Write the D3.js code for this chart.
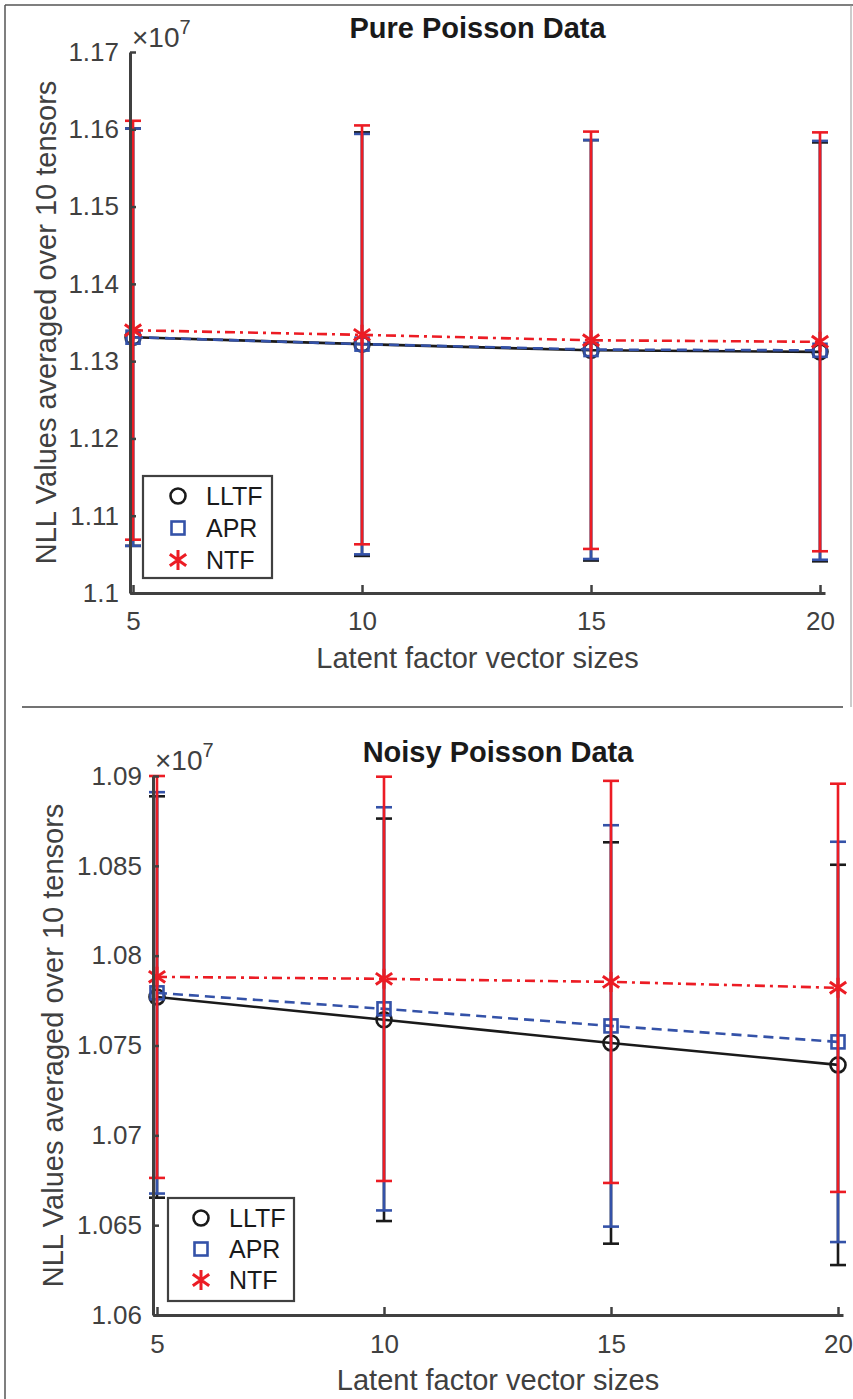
<!DOCTYPE html>
<html><head><meta charset="utf-8">
<script src="https://cdn.jsdelivr.net/npm/d3@7"></script>
<style>body{margin:0;background:#fff}svg{display:block}</style>
</head><body>
<svg id="c" width="853" height="1399"></svg>
<script>
// ---------- data (values in units of 1e7) ----------
const xValues = [5, 10, 15, 20];
const xTickLabels = ["5", "10", "15", "20"];
const seriesNames = ["LLTF", "APR", "NTF"];

const pureLLTF = [1.1331, 1.1322, 1.1314, 1.1312];
const pureLLTFErr = [0.0270, 0.0274, 0.0272, 0.0271];
const pureAPR = [1.1331, 1.1322, 1.1315, 1.1314];
const pureAPRErr = [0.0270, 0.0272, 0.0271, 0.0271];
const pureNTF = [1.1340, 1.1334, 1.1327, 1.1325];
const pureNTFErr = [0.0271, 0.0271, 0.0270, 0.0271];
const pureYTicks = [1.1, 1.11, 1.12, 1.13, 1.14, 1.15, 1.16, 1.17];
const pureYTickLabels = ["1.1", "1.11", "1.12", "1.13", "1.14", "1.15", "1.16", "1.17"];

const noisyLLTF = [1.07770, 1.07643, 1.07514, 1.07392];
const noisyLLTFErr = [0.01117, 0.01120, 0.01117, 0.01114];
const noisyAPR = [1.07793, 1.07704, 1.07609, 1.07520];
const noisyAPRErr = [0.01117, 0.01122, 0.01117, 0.01114];
const noisyNTF = [1.07882, 1.07871, 1.07854, 1.07821];
const noisyNTFErr = [0.01119, 0.01125, 0.01119, 0.01136];
const noisyYTicks = [1.06, 1.065, 1.07, 1.075, 1.08, 1.085, 1.09];
const noisyYTickLabels = ["1.06", "1.065", "1.07", "1.075", "1.08", "1.085", "1.09"];

// ---------- styles ----------
const FONT = "'Liberation Sans', Arial, Helvetica, sans-serif";
const AX = "#404040";
const styles = {
  LLTF: {color: "#1a1a1a", dash: null, marker: "circle"},
  APR:  {color: "#3452a8", dash: "10,6", marker: "square"},
  NTF:  {color: "#ec1c24", dash: "10,5,3,5", marker: "star"}
};

const svg = d3.select("#c");

// frame lines
svg.append("line").attr("x1",5).attr("x2",853).attr("y1",5).attr("y2",5).attr("stroke","#555").attr("stroke-width",1.5);
svg.append("line").attr("x1",5).attr("x2",5).attr("y1",5).attr("y2",1399).attr("stroke","#555").attr("stroke-width",1.5);
svg.append("line").attr("x1",851).attr("x2",851).attr("y1",5).attr("y2",707).attr("stroke","#999").attr("stroke-width",1);
svg.append("line").attr("x1",22).attr("x2",843).attr("y1",707).attr("y2",707).attr("stroke","#444").attr("stroke-width",1.5);

function marker(g, type, x, y, color, big) {
  if (type === "circle") {
    g.append("circle").attr("cx",x).attr("cy",y).attr("r",7.5)
      .attr("fill","none").attr("stroke",color).attr("stroke-width",2.6);
  } else if (type === "square") {
    g.append("rect").attr("x",x-6.5).attr("y",y-6.5).attr("width",13).attr("height",13)
      .attr("fill","none").attr("stroke",color).attr("stroke-width",2.6);
  } else {
    const r = 10;
    const p = d3.path();
    for (const a of [90, 35, -35]) {
      const rad = a*Math.PI/180;
      p.moveTo(x - r*Math.cos(rad), y - r*Math.sin(rad));
      p.lineTo(x + r*Math.cos(rad), y + r*Math.sin(rad));
    }
    g.append("path").attr("d",p.toString()).attr("stroke",color).attr("stroke-width",3).attr("fill","none");
  }
}

function drawChart(cfg) {
  const g = svg.append("g");
  const x = d3.scaleLinear().domain(cfg.xDomain).range([cfg.left, cfg.right]);
  const y = d3.scaleLinear().domain(cfg.yDomain).range([cfg.bottom, cfg.top]);

  // series: lines, error bars, markers
  cfg.series.forEach(s => {
    const st = styles[s.name];
    const pts = xValues.map((xv,i) => ({x: xv, y: s.values[i], e: s.err[i]}));
    const line = d3.line().x(d => x(d.x)).y(d => y(d.y));
    g.append("path").datum(pts).attr("d", line).attr("fill","none")
      .attr("stroke", st.color).attr("stroke-width", 2.6)
      .attr("stroke-dasharray", st.dash);
    pts.forEach(d => {
      const cx = x(d.x);
      const yHi = y(Math.min(d.y + d.e, cfg.yDomain[1]));
      const yLo = y(d.y - d.e);
      g.append("line").attr("x1",cx).attr("x2",cx).attr("y1",yHi).attr("y2",yLo)
        .attr("stroke",st.color).attr("stroke-width",2.6);
      [yHi, yLo].forEach(yy => g.append("line").attr("x1",cx-8).attr("x2",cx+8).attr("y1",yy).attr("y2",yy)
        .attr("stroke",st.color).attr("stroke-width",2.6));
      marker(g, st.marker, cx, y(d.y), st.color);
    });
  });

  // axes
  const yAxis = d3.axisLeft(y).tickValues(cfg.yTicks)
    .tickFormat((d,i) => cfg.yTickLabels[i]).tickSizeInner(-6).tickSizeOuter(0).tickPadding(11);
  const ya = g.append("g").attr("transform",`translate(${cfg.left},0)`).call(yAxis);
  const xAxis = d3.axisBottom(x).tickValues(xValues)
    .tickFormat((d,i) => xTickLabels[i]).tickSizeInner(-8).tickSizeOuter(0).tickPadding(cfg.xPad);
  const xa = g.append("g").attr("transform",`translate(0,${cfg.bottom})`).call(xAxis);
  [ya, xa].forEach(a => {
    a.select(".domain").attr("stroke",AX).attr("stroke-width",3);
    a.selectAll(".tick line").attr("stroke",AX).attr("stroke-width",2.5);
    a.selectAll(".tick text").attr("fill",AX).style("font-family",FONT).style("font-size","26px");
  });

  // exponent label
  const ex = g.append("text").attr("x",cfg.expX).attr("y",cfg.expY).attr("fill",AX)
    .style("font-family",FONT).style("font-size","28px");
  ex.append("tspan").text("×10");
  ex.append("tspan").attr("dy",-13).style("font-size","20px").text("7");

  // title
  g.append("text").attr("x",(cfg.left+cfg.right)/2).attr("y",cfg.titleY)
    .attr("text-anchor","middle").attr("fill","#1a1a1a")
    .style("font-family",FONT).style("font-weight","bold").style("font-size","29px").text(cfg.title);
  // x label
  g.append("text").attr("x",(cfg.left+cfg.right)/2).attr("y",cfg.xLabelY)
    .attr("text-anchor","middle").attr("fill",AX)
    .style("font-family",FONT).style("font-size","29px").text("Latent factor vector sizes");
  // y label
  g.append("text").attr("transform",`translate(${cfg.yLabelX},${(cfg.top+cfg.bottom)/2}) rotate(-90)`)
    .attr("text-anchor","middle").attr("fill",AX)
    .style("font-family",FONT).style("font-size","29px").text("NLL Values averaged over 10 tensors");

  // legend
  const L = cfg.legend;
  g.append("rect").attr("x",L.x).attr("y",L.y).attr("width",L.w).attr("height",L.h)
    .attr("fill","#fff").attr("stroke",AX).attr("stroke-width",2.2);
  seriesNames.forEach((n,i) => {
    const yy = L.y + 20 + i*L.step;
    marker(g, styles[n].marker, L.mx, yy, styles[n].color);
    g.append("text").attr("x",L.tx).attr("y",yy).attr("dy","0.35em").attr("fill","#1a1a1a")
      .style("font-family",FONT).style("font-size","25px").text(n);
  });
}

drawChart({
  title: "Pure Poisson Data", titleY: 38,
  left: 130, right: 825, top: 52, bottom: 593,
  xDomain: [4.934, 20.109], yDomain: [1.1, 1.17],
  yTicks: pureYTicks, yTickLabels: pureYTickLabels,
  xPad: 19, xLabelY: 668, yLabelX: 56, expX: 132, expY: 47,
  series: [
    {name: "LLTF", values: pureLLTF, err: pureLLTFErr},
    {name: "APR", values: pureAPR, err: pureAPRErr},
    {name: "NTF", values: pureNTF, err: pureNTFErr}
  ],
  legend: {x: 143, y: 476, w: 129, h: 102, step: 32, mx: 178, tx: 206}
});

drawChart({
  title: "Noisy Poisson Data", titleY: 762,
  left: 153, right: 843, top: 776, bottom: 1315,
  xDomain: [4.912, 20.11], yDomain: [1.06, 1.09],
  yTicks: noisyYTicks, yTickLabels: noisyYTickLabels,
  xPad: 20, xLabelY: 1390, yLabelX: 63, expX: 155, expY: 770,
  series: [
    {name: "LLTF", values: noisyLLTF, err: noisyLLTFErr},
    {name: "APR", values: noisyAPR, err: noisyAPRErr},
    {name: "NTF", values: noisyNTF, err: noisyNTFErr}
  ],
  legend: {x: 168, y: 1198, w: 126, h: 103, step: 31, mx: 201, tx: 229}
});
</script>
</body></html>
